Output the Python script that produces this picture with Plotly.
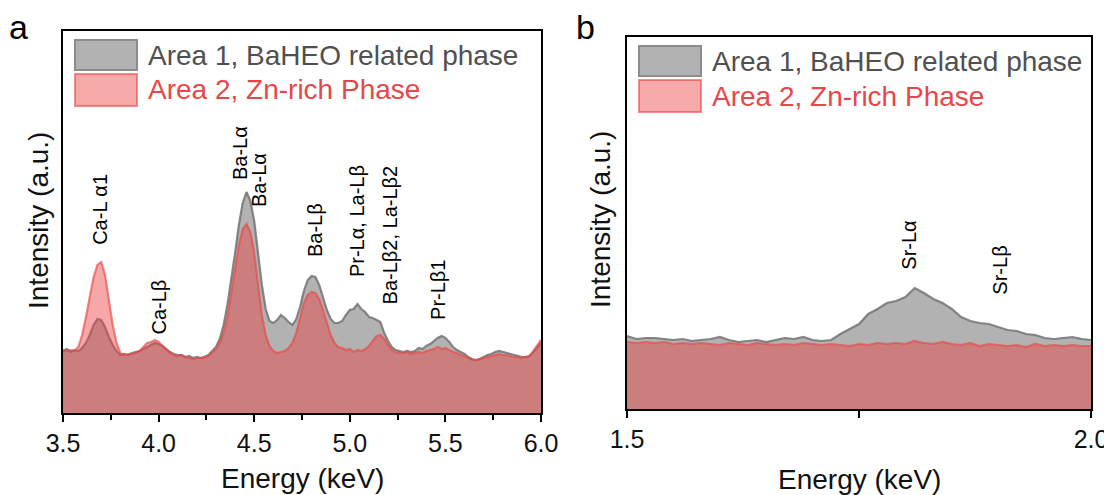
import numpy as np
import plotly.graph_objects as go

W, H = 1112, 495          # browser window
OFF = 8                   # default body margin of the html page
FW, FH = W - OFF, H - OFF  # figure size so that it exactly fills the window

# ---------------- data ----------------
energy_a = np.round(np.arange(3.50, 6.0001, 0.02), 2)
area1_a = [62, 64, 61, 63, 62, 65, 70, 78, 88, 94,
           93, 86, 76, 68, 62, 58, 59, 58, 60, 61,
           62, 64, 66, 68, 70, 69, 67, 64, 61, 59,
           58, 58, 56, 57, 55, 56, 55, 56, 58, 62,
           66, 74, 88, 108, 132, 160, 188, 210, 221, 212,
           192, 160, 128, 104, 92, 90, 93, 98, 95, 91,
           88, 94, 106, 122, 133, 137, 136, 128, 116, 103,
           94, 90, 90, 92, 98, 103, 104, 109, 104, 101,
           96, 95, 93, 91, 80, 72, 66, 63, 62, 61,
           62, 61, 62, 65, 64, 67, 69, 72, 75, 77,
           75, 71, 66, 63, 61, 59, 56, 54, 53, 54,
           56, 58, 59, 61, 62, 61, 60, 59, 58, 57,
           56, 56, 57, 61, 66, 70]
area2_a = [63, 62, 63, 62, 66, 78, 96, 118, 136, 148,
           151, 138, 112, 88, 70, 60, 58, 59, 59, 60,
           62, 66, 70, 71, 73, 71, 67, 63, 60, 58,
           57, 58, 56, 55, 54, 55, 55, 56, 57, 60,
           64, 70, 80, 96, 118, 144, 168, 184, 189, 181,
           160, 128, 98, 78, 67, 62, 60, 61, 62, 65,
           70, 80, 96, 110, 118, 121, 120, 114, 103, 90,
           78, 70, 66, 65, 63, 64, 61, 63, 62, 64,
           67, 72, 77, 78, 74, 68, 63, 61, 60, 60,
           61, 59, 60, 61, 60, 62, 63, 64, 66, 64,
           65, 63, 61, 60, 58, 57, 55, 53, 53, 54,
           55, 56, 57, 58, 59, 58, 58, 57, 56, 56,
           55, 56, 57, 62, 68, 73]

energy_b = np.round(np.arange(1.50, 2.0001, 0.01), 2)
area1_b = [73, 70, 71, 71, 70, 69, 70, 68, 69, 70,
           72, 69, 67, 68, 69, 67, 69, 71, 70, 72,
           69, 68, 69, 75, 80, 85, 95, 100, 106, 108,
           112, 121, 116, 110, 106, 100, 92, 88, 86, 85,
           82, 79, 78, 75, 74, 71, 70, 71, 72, 70, 69]
area2_b = [67, 66, 67, 66, 67, 65, 66, 65, 66, 65,
           64, 66, 65, 64, 66, 65, 64, 65, 64, 66,
           65, 64, 65, 64, 63, 65, 64, 66, 65, 66,
           65, 68, 66, 65, 67, 65, 64, 66, 63, 65,
           64, 63, 64, 62, 65, 63, 64, 63, 64, 63, 63]

series_names = ["Area 1, BaHEO related phase", "Area 2, Zn-rich Phase"]

peaks_a_text = ["Ca-L α1", "Ca-Lβ", "Ba-Lα", "Ba-Lα", "Ba-Lβ",
                "Pr-Lα, La-Lβ", "Ba-Lβ2, La-Lβ2", "Pr-Lβ1"]
peaks_a_x = [3.69, 3.997, 4.426, 4.525, 4.818, 5.038, 5.21, 5.461]
peaks_a_y = [166, 76, 231, 204, 154, 134, 107, 91]

peaks_b_text = ["Sr-Lα", "Sr-Lβ"]
peaks_b_x = [1.803, 1.901]
peaks_b_y = [137, 112]

ticks_a = [3.5, 4.0, 4.5, 5.0, 5.5, 6.0]
ticks_a_text = ["3.5", "4.0", "4.5", "5.0", "5.5", "6.0"]
ticks_b = [1.5, 1.75, 2.0]
ticks_b_text = ["1.5", "", "2.0"]

# ---------------- styles ----------------
FONT = "Liberation Sans, Arial, sans-serif"
GRAY_FILL = "rgb(178,178,178)"
GRAY_LINE = "rgba(115,115,115,0.85)"
RED_FILL = "rgba(235,64,64,0.455)"
RED_LINE = "rgba(235,70,70,0.65)"

def px(x):
    return (x - OFF) / FW

def py(y):
    return 1 - (y - OFF) / FH

fig = go.Figure()

for xs, y1, y2, xa, ya in [(energy_a, area1_a, area2_a, "x", "y"),
                           (energy_b, area1_b, area2_b, "x2", "y2")]:
    fig.add_trace(go.Scatter(x=xs, y=y1, mode="lines", fill="tozeroy",
                             fillcolor=GRAY_FILL, line=dict(color=GRAY_LINE, width=2.2),
                             name=series_names[0], xaxis=xa, yaxis=ya, showlegend=False))
    fig.add_trace(go.Scatter(x=xs, y=y2, mode="lines", fill="tozeroy",
                             fillcolor=RED_FILL, line=dict(color=RED_LINE, width=2.2),
                             name=series_names[1], xaxis=xa, yaxis=ya, showlegend=False))

axis_common = dict(showline=True, linecolor="black", linewidth=2, mirror=True,
                   showgrid=False, zeroline=False, automargin=False)

fig.update_layout(
    width=FW, height=FH, margin=dict(l=0, r=0, t=0, b=0, autoexpand=False),
    paper_bgcolor="white", plot_bgcolor="white",
    font=dict(family=FONT, color="black"),
    showlegend=False,
    xaxis=dict(domain=[px(63), px(541)], range=[3.5, 6.0], anchor="y",
               tickvals=ticks_a, ticktext=ticks_a_text, ticks="outside",
               ticklen=7, tickwidth=2, tickcolor="black",
               tickfont=dict(size=25, family=FONT, color="#111"),
               minor=dict(dtick=0.25, tick0=3.5, ticks="outside", ticklen=5,
                          tickwidth=2, tickcolor="black"),
               **axis_common),
    yaxis=dict(domain=[py(413), py(31)], range=[0, 382], anchor="x",
               showticklabels=False, ticks="", **axis_common),
    xaxis2=dict(domain=[px(627), px(1091)], range=[1.5, 2.0], anchor="y2",
                tickvals=ticks_b, ticktext=ticks_b_text, ticks="outside",
                ticklen=7, tickwidth=2, tickcolor="black",
                tickfont=dict(size=25, family=FONT, color="#111"),
                **axis_common),
    yaxis2=dict(domain=[py(409), py(37)], range=[0, 372], anchor="x2",
                showticklabels=False, ticks="", **axis_common),
)

ann = []
# peak labels
for t, x, y in zip(peaks_a_text, peaks_a_x, peaks_a_y):
    ann.append(dict(text=t, x=x, y=y, xref="x", yref="y", textangle=-90,
                    xanchor="center", yanchor="bottom", showarrow=False,
                    font=dict(size=20, family=FONT, color="black")))
for t, x, y in zip(peaks_b_text, peaks_b_x, peaks_b_y):
    ann.append(dict(text=t, x=x, y=y, xref="x2", yref="y2", textangle=-90,
                    xanchor="center", yanchor="bottom", showarrow=False,
                    font=dict(size=20, family=FONT, color="black")))

# axis titles
for cx, cy in [(302, 478), (859, 479)]:
    ann.append(dict(text="Energy (keV)", x=px(cx), y=py(cy), xref="paper", yref="paper",
                    xanchor="center", yanchor="middle", showarrow=False,
                    font=dict(size=28, family=FONT, color="#111")))
for cx, cy in [(38, 221), (600, 220)]:
    ann.append(dict(text="Intensity (a.u.)", x=px(cx), y=py(cy), xref="paper", yref="paper",
                    textangle=-90, xanchor="center", yanchor="middle", showarrow=False,
                    font=dict(size=28, family=FONT, color="#111")))

# panel labels
for t, cx, cy in [("a", 19, 27), ("b", 585, 27)]:
    ann.append(dict(text=t, x=px(cx), y=py(cy), xref="paper", yref="paper",
                    xanchor="center", yanchor="middle", showarrow=False,
                    font=dict(size=34, family=FONT, color="black")))

# custom legends (swatch left, swatch top, text left)
shapes = []
legend_specs = [(75, 40, 146), (639, 46, 710)]
for (sx, sy, tx) in legend_specs:
    shapes.append(dict(type="rect", xref="paper", yref="paper",
                       x0=px(sx), x1=px(sx + 62), y0=py(sy), y1=py(sy + 30),
                       fillcolor=GRAY_FILL, line=dict(color="rgb(140,140,140)", width=2)))
    shapes.append(dict(type="rect", xref="paper", yref="paper",
                       x0=px(sx), x1=px(sx + 62), y0=py(sy + 34), y1=py(sy + 66),
                       fillcolor="rgba(235,64,64,0.45)",
                       line=dict(color="rgba(235,70,70,0.6)", width=2)))
    ann.append(dict(text=series_names[0], x=px(tx), y=py(sy + 15), xref="paper", yref="paper",
                    xanchor="left", yanchor="middle", showarrow=False,
                    font=dict(size=28, family=FONT, color="#505050")))
    ann.append(dict(text=series_names[1], x=px(tx), y=py(sy + 50), xref="paper", yref="paper",
                    xanchor="left", yanchor="middle", showarrow=False,
                    font=dict(size=28, family=FONT, color="#E8474A")))

fig.update_layout(annotations=ann, shapes=shapes)
fig.write_html("out.html")
